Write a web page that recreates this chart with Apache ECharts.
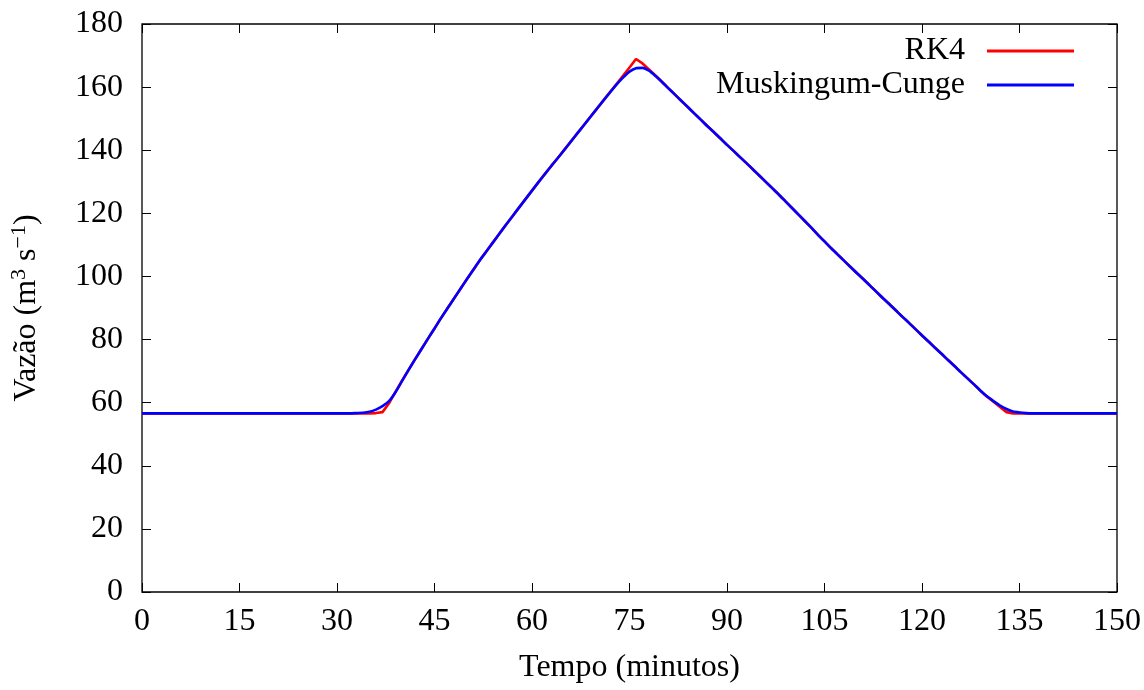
<!DOCTYPE html>
<html lang="pt">
<head>
    <meta charset="UTF-8">
    <title>Vazão - RK4 x Muskingum-Cunge</title>
    <script src="https://cdn.jsdelivr.net/npm/echarts@6/dist/echarts.min.js"></script>
</head>
<body style="margin:0">
<div id="pic1" style="width: 1144px;height:690px;"></div>
<script>
    // tempo em minutos (0..150)
    var tempo = [];
    for (var i = 0; i <= 150; i++) { tempo.push(i); }

    // vazão RK4, de t=30 até t=137 (fora disso fica na base)
    var base = 56.6;
    var rk4Trecho = [
        56.6, 56.6, 56.6, 56.6, 56.6, 56.6, 56.7, 57.0, 59.8, 63.4,   // 30-39
        67.0, 70.4, 73.7, 77.0, 80.3, 83.5, 86.8, 89.9, 93.0, 96.1,   // 40-49
        99.2, 102.2, 105.2, 108.0, 110.8, 113.6, 116.4, 119.1, 121.8, 124.5, // 50-59
        127.2, 129.9, 132.5, 135.1, 137.6, 140.2, 142.8, 145.4, 148.0, 150.6, // 60-69
        153.2, 155.8, 158.4, 161.0, 163.6, 166.2, 168.9, 167.5, 165.6, 163.7, // 70-79
        161.7, 159.6, 157.6, 155.6, 153.6, 151.6, 149.6, 147.6, 145.7, 143.7, // 80-89
        141.7, 139.8, 137.8, 135.9, 133.9, 131.9, 129.9, 127.9, 125.9, 123.8, // 90-99
        121.7, 119.6, 117.5, 115.4, 113.2, 111.1, 109.0, 107.0, 105.0, 103.0, // 100-109
        101.0, 99.1, 97.1, 95.1, 93.1, 91.2, 89.2, 87.2, 85.3, 83.3,  // 110-119
        81.3, 79.4, 77.4, 75.5, 73.5, 71.6, 69.6, 67.7, 65.8, 63.8,   // 120-129
        61.9, 60.3, 58.6, 57.0, 56.6, 56.6, 56.6, 56.6                 // 130-137
    ];
    // vazão Muskingum-Cunge
    var mcTrecho = [
        56.6, 56.6, 56.6, 56.7, 56.8, 57.1, 57.8, 58.9, 60.5, 63.3,   // 30-39
        66.8, 70.3, 73.7, 77.0, 80.3, 83.5, 86.8, 89.9, 93.0, 96.1,   // 40-49
        99.2, 102.2, 105.2, 108.0, 110.8, 113.6, 116.4, 119.1, 121.8, 124.5, // 50-59
        127.2, 129.9, 132.5, 135.1, 137.6, 140.2, 142.8, 145.4, 148.0, 150.6, // 60-69
        153.2, 155.8, 158.3, 160.8, 163.0, 164.9, 166.0, 166.1, 165.2, 163.5, // 70-79
        161.6, 159.6, 157.6, 155.6, 153.6, 151.6, 149.6, 147.6, 145.7, 143.7, // 80-89
        141.7, 139.8, 137.8, 135.9, 133.9, 131.9, 129.9, 127.9, 125.9, 123.8, // 90-99
        121.7, 119.6, 117.5, 115.4, 113.2, 111.1, 109.0, 107.0, 105.0, 103.0, // 100-109
        101.0, 99.1, 97.1, 95.1, 93.1, 91.2, 89.2, 87.2, 85.3, 83.3,  // 110-119
        81.3, 79.4, 77.4, 75.5, 73.5, 71.6, 69.6, 67.7, 65.8, 63.8,   // 120-129
        62.0, 60.5, 59.1, 58.0, 57.2, 56.9, 56.7, 56.6                 // 130-137
    ];

    var fonte = 'Liberation Serif';
    var tam = 32;

    function montaSerie(trecho) {
        var dados = [];
        for (var i = 0; i < tempo.length; i++) {
            var t = tempo[i];
            var v = (t >= 30 && t <= 137) ? trecho[t - 30] : base;
            dados.push([t, v]);
        }
        return dados;
    }

    var myCharts1 = echarts.init(document.getElementById('pic1'));
    var eixoX = {
        type: 'value', min: 0, max: 150, interval: 15,
        axisLine: {show: false, onZero: false},
        axisTick: {inside: true, length: 9, lineStyle: {color: '#000'}},
        splitLine: {show: false}
    };
    var eixoY = {
        type: 'value', min: 0, max: 180, interval: 20,
        axisLine: {show: false, onZero: false},
        axisTick: {inside: true, length: 9, lineStyle: {color: '#000'}},
        splitLine: {show: false}
    };
    var option1 = {
        backgroundColor: 'white',
        animation: false,
        textStyle: {fontFamily: fonte},
        grid: {
            left: 142, right: 27, top: 24, bottom: 98,
            outerBoundsMode: 'none',
            show: true, borderColor: '#000', borderWidth: 1.3
        },
        legend: {
            orient: 'vertical',
            right: 65, top: 29,
            align: 'right',
            itemGap: 0,
            itemWidth: 87, itemHeight: 3,
            icon: 'rect',
            textStyle: {fontFamily: fonte, fontSize: tam, color: '#000', lineHeight: 34, padding: [0, 17, 0, 0]},
            data: ['RK4', 'Muskingum-Cunge']
        },
        xAxis: [
            Object.assign({}, eixoX, {
                position: 'bottom',
                axisLabel: {fontFamily: fonte, fontSize: tam, color: '#000', margin: 14},
                name: 'Tempo (minutos)',
                nameLocation: 'middle', nameGap: 60,
                nameTextStyle: {fontFamily: fonte, fontSize: tam, color: '#000'}
            }),
            Object.assign({}, eixoX, {position: 'top', axisLabel: {show: false}})
        ],
        yAxis: [
            Object.assign({}, eixoY, {
                position: 'left',
                axisLabel: {fontFamily: fonte, fontSize: tam, color: '#000', margin: 19},
                name: '{a|Vazão (m}{s|3}{a| s}{s|−1}{a|)}',
                nameLocation: 'middle', nameGap: 96,
                nameTextStyle: {
                    rich: {
                        a: {fontFamily: fonte, fontSize: tam, color: '#000', lineHeight: 38},
                        s: {fontFamily: fonte, fontSize: 22, color: '#000', verticalAlign: 'top', lineHeight: 38}
                    }
                }
            }),
            Object.assign({}, eixoY, {position: 'right', axisLabel: {show: false}})
        ],
        series: [
            {
                name: 'RK4', type: 'line', showSymbol: false,
                lineStyle: {color: '#ff0000', width: 2.6}, itemStyle: {color: '#ff0000'},
                data: montaSerie(rk4Trecho)
            },
            {
                name: 'Muskingum-Cunge', type: 'line', showSymbol: false, smooth: 0.2,
                lineStyle: {color: '#0000ff', width: 2.6}, itemStyle: {color: '#0000ff'},
                data: montaSerie(mcTrecho)
            }
        ]
    };
    myCharts1.setOption(option1, true);
</script>
</body>
</html>
